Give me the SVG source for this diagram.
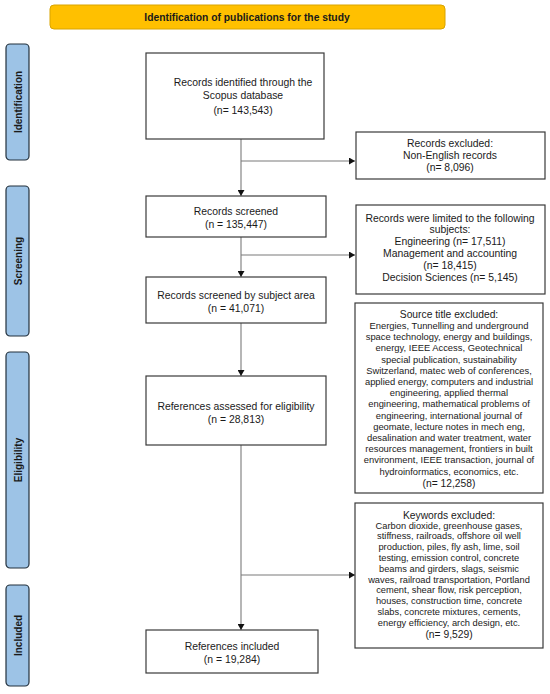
<svg xmlns="http://www.w3.org/2000/svg" width="550" height="694" viewBox="0 0 550 694">
<defs>
<marker id="ah" markerWidth="7" markerHeight="7" refX="6" refY="3.5" orient="auto" markerUnits="userSpaceOnUse">
<path d="M0,0 L6,3.5 L0,7 Z" fill="#111"/>
</marker>
<style>
text{font-family:"Liberation Sans",Arial,sans-serif;fill:#1a1a1a;text-anchor:middle;dominant-baseline:central}
.box{fill:#fff;stroke:#3a3a3a;stroke-width:1.2}
.m{font-size:10.4px}
.h{font-size:10.3px}
.s{font-size:9.4px}
.k{font-size:9.3px}
.side{fill:#9DC3E6;stroke:#22303c;stroke-width:1.2}
.st{font-size:10px;font-weight:bold}
.ln{stroke:#7a7a7a;stroke-width:1.1;fill:none}
</style>
</defs>
<rect width="550" height="694" fill="#fff"/>
<g id="title">
<rect x="50" y="5" width="395" height="24" rx="4" fill="#FFC000" stroke="#D9A400" stroke-width="1"/>
<text x="247" y="17.5" style="font-size:10.3px;font-weight:bold">Identification of publications for the study</text>
</g>
<g id="phase-identification">
<rect class="side" x="6" y="44" width="23" height="116" rx="4"/>
<text class="st" transform="translate(18,102) rotate(-90)">Identification</text>
</g>
<g id="phase-screening">
<rect class="side" x="6" y="186" width="23" height="150" rx="4"/>
<text class="st" transform="translate(18,261) rotate(-90)">Screening</text>
</g>
<g id="phase-eligibility">
<rect class="side" x="6" y="352" width="23" height="216" rx="4"/>
<text class="st" transform="translate(18,460) rotate(-90)">Eligibility</text>
</g>
<g id="phase-included">
<rect class="side" x="6" y="585" width="23" height="101" rx="4"/>
<text class="st" transform="translate(18,635.5) rotate(-90)">Included</text>
</g>
<g id="connectors">
<line class="ln" x1="241" y1="139" x2="241" y2="196" marker-end="url(#ah)"/>
<line class="ln" x1="241" y1="161" x2="355" y2="161" marker-end="url(#ah)"/>
<line class="ln" x1="241" y1="237" x2="241" y2="277" marker-end="url(#ah)"/>
<line class="ln" x1="241" y1="255" x2="355" y2="255" marker-end="url(#ah)"/>
<line class="ln" x1="241" y1="323" x2="241" y2="376" marker-end="url(#ah)"/>
<line class="ln" x1="241" y1="445" x2="241" y2="630" marker-end="url(#ah)"/>
<line class="ln" x1="241" y1="575" x2="355" y2="575" marker-end="url(#ah)"/>
</g>
<g id="records-identified">
<rect class="box" x="146" y="53" width="178" height="86"/>
<text class="m" x="243" y="82">Records identified through the</text>
<text class="m" x="243" y="95.5">Scopus database</text>
<text class="m" x="243" y="110">(n= 143,543)</text>
</g>
<g id="records-excluded">
<rect class="box" x="356" y="132" width="189" height="47"/>
<text class="m" x="450" y="143">Records excluded:</text>
<text class="m" x="450" y="155">Non-English records</text>
<text class="m" x="450" y="167">(n= 8,096)</text>
</g>
<g id="records-screened">
<rect class="box" x="146" y="196" width="180" height="41"/>
<text class="m" x="236" y="211">Records screened</text>
<text class="m" x="236" y="224">(n = 135,447)</text>
</g>
<g id="records-limited">
<rect class="box" x="356" y="205" width="189" height="89"/>
<text class="m" x="450" y="218">Records were limited to the following</text>
<text class="m" x="450" y="229.5">subjects:</text>
<text class="m" x="450" y="241">Engineering (n= 17,511)</text>
<text class="m" x="450" y="253">Management and accounting</text>
<text class="m" x="450" y="265">(n= 18,415)</text>
<text class="m" x="450" y="277">Decision Sciences (n= 5,145)</text>
</g>
<g id="records-subject">
<rect class="box" x="146" y="277" width="180" height="46"/>
<text class="m" x="236" y="295">Records screened by subject area</text>
<text class="m" x="236" y="308">(n = 41,071)</text>
</g>
<g id="source-excluded">
<rect class="box" x="355" y="303" width="188" height="190"/>
<text class="h" x="449" y="314">Source title excluded:</text>
<text class="s" x="449" y="325.5">Energies, Tunnelling and underground</text>
<text class="s" x="449" y="336.7">space technology, energy and buildings,</text>
<text class="s" x="449" y="347.9">energy, IEEE Access, Geotechnical</text>
<text class="s" x="449" y="359.1">special publication, sustainability</text>
<text class="s" x="449" y="370.3">Switzerland, matec web of conferences,</text>
<text class="s" x="449" y="381.5">applied energy, computers and industrial</text>
<text class="s" x="449" y="392.7">engineering, applied thermal</text>
<text class="s" x="449" y="403.9">engineering, mathematical problems of</text>
<text class="s" x="449" y="415.1">engineering, international journal of</text>
<text class="s" x="449" y="426.3">geomate, lecture notes in mech eng,</text>
<text class="s" x="449" y="437.5">desalination and water treatment, water</text>
<text class="s" x="449" y="448.7">resources management, frontiers in built</text>
<text class="s" x="449" y="459.9">environment, IEEE transaction, journal of</text>
<text class="s" x="449" y="471.1">hydroinformatics, economics, etc.</text>
<text class="h" x="449" y="483">(n= 12,258)</text>
</g>
<g id="references-assessed">
<rect class="box" x="146" y="376" width="180" height="69"/>
<text class="m" x="236" y="406">References assessed for eligibility</text>
<text class="m" x="236" y="419">(n = 28,813)</text>
</g>
<g id="keywords-excluded">
<rect class="box" x="355" y="503" width="188" height="145"/>
<text class="h" x="449" y="515">Keywords excluded:</text>
<text class="k" x="449" y="525.5">Carbon dioxide, greenhouse gases,</text>
<text class="k" x="449" y="536.3">stiffness, railroads, offshore oil well</text>
<text class="k" x="449" y="547.1">production, piles, fly ash, lime, soil</text>
<text class="k" x="449" y="557.9">testing, emission control, concrete</text>
<text class="k" x="449" y="568.7">beams and girders, slags, seismic</text>
<text class="k" x="449" y="579.5">waves, railroad transportation, Portland</text>
<text class="k" x="449" y="590.3">cement, shear flow, risk perception,</text>
<text class="k" x="449" y="601.1">houses, construction time, concrete</text>
<text class="k" x="449" y="611.9">slabs, concrete mixtures, cements,</text>
<text class="k" x="449" y="622.7">energy efficiency, arch design, etc.</text>
<text class="h" x="449" y="634">(n= 9,529)</text>
</g>
<g id="references-included">
<rect class="box" x="146" y="630" width="172" height="43"/>
<text class="m" x="232" y="646">References included</text>
<text class="m" x="232" y="659">(n = 19,284)</text>
</g>
</svg>
